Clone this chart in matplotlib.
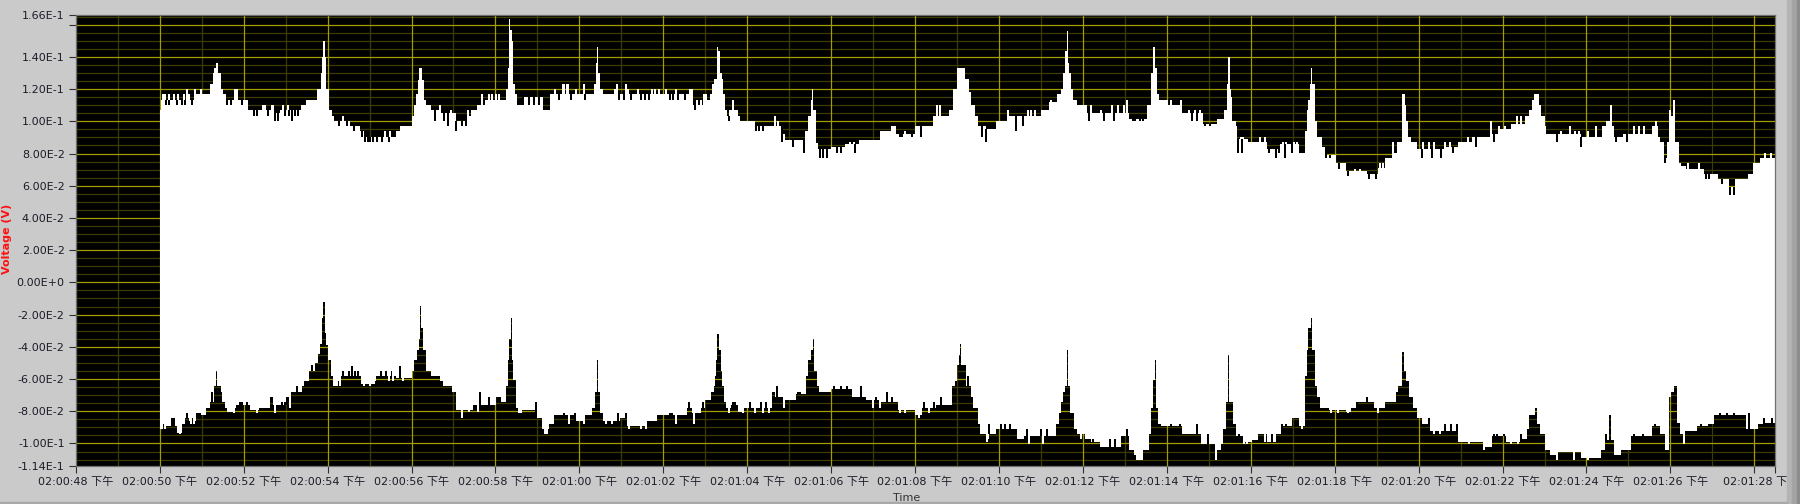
import numpy as np
import matplotlib
matplotlib.use("Agg")
import matplotlib.pyplot as plt
from matplotlib.patches import Rectangle
from matplotlib.transforms import ScaledTranslation

plt.rcParams['font.family'] = ['DejaVu Sans', 'Noto Sans CJK SC']

# time in seconds after 02:00:00 PM ; envelope of the fast oscillating voltage (V)
upper_t = [50.00, 50.04, 50.86, 51.20, 51.26, 51.30, 51.35, 51.40, 51.45, 51.50,
           51.57, 51.78, 51.85, 52.10, 52.66, 52.72, 52.87, 53.37, 53.49, 53.75, 53.84,
           53.87, 53.90, 53.93, 53.97, 54.04, 54.10, 54.16, 54.54, 54.77, 54.87, 55.63, 55.73, 56.01,
           56.07, 56.11, 56.16, 56.19, 56.24, 56.29, 56.35, 56.46, 56.71, 57.05, 57.27, 57.42, 57.55,
           57.76, 58.26, 58.30, 58.315, 58.33, 58.34, 58.39, 58.42, 58.47, 58.52, 58.64, 59.14, 59.31,
           59.47, 60.35, 60.39, 60.42, 60.44, 60.49, 60.56, 60.73,
           62.65, 62.70, 62.99, 63.11, 63.17, 63.22, 63.27, 63.31, 63.36, 63.39, 63.42, 63.46, 63.52,
           63.57, 63.64, 63.77, 63.82, 64.18, 64.83, 64.91, 65.37, 65.45, 65.51, 65.54, 65.56, 65.63,
           65.68, 66.00, 66.33, 66.67, 67.17, 67.42, 67.54, 68.00, 68.42, 68.80, 68.91, 69.01, 69.06,
           69.08, 69.19, 69.28, 69.34, 69.43, 69.51, 69.68, 69.93, 70.18, 71.01, 71.18, 71.39, 71.47,
           71.53, 71.58, 71.62, 71.65, 71.68, 71.72, 71.77, 71.85, 72.06, 73.10, 73.52, 73.62, 73.66,
           73.71, 73.76, 73.82, 74.02, 74.36, 74.86, 75.19, 75.36, 75.43, 75.46, 75.50, 75.52,
           75.56, 75.64, 75.68, 75.93, 76.39, 76.69, 77.15, 77.29, 77.34, 77.37, 77.40, 77.44, 77.46,
           77.52, 77.57, 77.69, 77.82, 78.02, 78.27, 78.78, 79.03, 79.19, 79.36, 79.49, 79.60, 79.68,
           79.71, 79.75, 79.82, 79.95, 80.62, 80.95, 81.28, 81.70, 81.95, 82.20, 82.54, 82.62, 82.71,
           82.76, 82.86, 82.91, 83.00, 83.04, 83.88, 84.38, 84.46, 84.55, 84.60, 84.65, 84.88, 85.55,
           85.70, 85.76, 85.84, 85.93, 85.97, 86.02, 86.07, 86.12, 86.20, 86.26, 86.38, 86.80, 87.14,
           87.39, 87.55, 87.85, 87.97, 88.14, 88.60]
upper_v = [0.1071, 0.1133, 0.1171, 0.1233, 0.1300, 0.1331, 0.1363, 0.1300, 0.1202, 0.1171,
           0.1133, 0.1202, 0.1133, 0.1071, 0.1102, 0.1052, 0.1071, 0.1102, 0.1133, 0.1202, 0.1300,
           0.1400, 0.1498, 0.1400, 0.1202, 0.1071, 0.1033, 0.1000, 0.0971, 0.0942, 0.0902, 0.0942, 0.0971, 0.1033,
           0.1102, 0.1171, 0.1258, 0.1331, 0.1258, 0.1133, 0.1102, 0.1071, 0.1050, 0.1000, 0.1033, 0.1071, 0.1102,
           0.1133, 0.1202, 0.1331, 0.1655, 0.1633, 0.1567, 0.1498, 0.1233, 0.1171, 0.1102, 0.1150, 0.1071, 0.1171,
           0.1171, 0.1233, 0.1363, 0.1463, 0.1300, 0.1202, 0.1171, 0.1171,
           0.1202, 0.1102, 0.1133, 0.1171, 0.1233, 0.1263, 0.1463, 0.1435, 0.1300, 0.1263, 0.1171, 0.1071, 0.1033,
           0.1071, 0.1071, 0.1033, 0.1000, 0.0971, 0.0922, 0.0887, 0.0942, 0.1033, 0.1133, 0.1202, 0.1071, 0.0867,
           0.0825, 0.0842, 0.0858, 0.0887, 0.0942, 0.0971, 0.0920, 0.0971, 0.1033, 0.1071, 0.1202, 0.1331, 0.1363,
           0.1331, 0.1263, 0.1180, 0.1102, 0.1033, 0.0971, 0.0955, 0.1000, 0.1033, 0.1071, 0.1120, 0.1171, 0.1202,
           0.1300, 0.1435, 0.1560, 0.1363, 0.1300, 0.1202, 0.1133, 0.1102, 0.1050, 0.1017, 0.1102, 0.1300, 0.1463,
           0.1331, 0.1171, 0.1133, 0.1102, 0.1050, 0.0985, 0.1017, 0.1071, 0.1233, 0.1400, 0.1202, 0.1150,
           0.1000, 0.0971, 0.0890, 0.0873, 0.0830, 0.0858, 0.0804, 0.0942, 0.1071, 0.1133, 0.1233, 0.1331, 0.1233,
           0.1000, 0.0902, 0.0842, 0.0790, 0.0740, 0.0690, 0.0675, 0.0710, 0.0773, 0.0804, 0.0873, 0.1171, 0.1102,
           0.1000, 0.0902, 0.0873, 0.0830, 0.0842, 0.0873, 0.0902, 0.0920, 0.0955, 0.0985, 0.1033, 0.1071, 0.1133,
           0.1171, 0.1102, 0.1033, 0.0971, 0.0920, 0.0902, 0.0971, 0.1000, 0.1102, 0.0971, 0.0902, 0.0920, 0.0971,
           0.0902, 0.0873, 0.0773, 0.0873, 0.1071, 0.1033, 0.1133, 0.0873, 0.0742, 0.0720, 0.0704, 0.0675, 0.0644,
           0.0590, 0.0644, 0.0675, 0.0742, 0.0775, 0.0775]

# thin single-sample excursions of the upper envelope (white above it, black dips below it)
upper_peak_t = [50.07, 50.13, 50.23, 50.33, 50.44, 50.59, 50.64, 50.69, 50.84, 50.99, 51.83, 52.45, 52.52,
                52.93, 53.05, 54.36, 55.36, 55.49, 56.68, 56.94, 57.34, 57.67, 57.85, 57.92, 58.01, 58.09,
                59.43, 59.60, 59.64, 59.70, 59.74, 59.93, 60.10, 60.84, 60.89, 61.10, 61.16, 61.40, 61.73,
                61.81, 61.90, 62.06, 62.31, 62.63, 62.80, 62.90, 62.97, 63.02, 63.67, 64.34, 64.44, 64.66,
                64.73, 66.46, 66.54, 67.77, 68.18, 68.27, 68.52, 68.60, 70.22, 70.70, 70.76, 70.85, 71.24,
                71.93, 72.08, 72.20, 72.43, 72.69, 72.84, 72.99, 73.06, 74.11, 74.34, 74.53, 74.68, 74.78,
                75.77, 75.81, 76.21, 76.35, 76.77, 76.85, 77.02, 77.10, 78.48, 78.61, 79.09, 79.16, 79.40,
                80.11, 80.24, 80.36, 80.63, 80.74, 81.18, 81.72, 81.91, 82.06, 82.35, 82.45, 83.39, 83.61,
                83.72, 83.83, 84.04, 84.23, 85.13, 85.25, 85.38, 85.66, 86.43, 86.68, 88.26, 88.39]
upper_peak_v = [0.1171, 0.1171, 0.1171, 0.1171, 0.1171, 0.1171, 0.1202, 0.1171, 0.1202, 0.1202, 0.1202, 0.1102, 0.1102,
                0.1102, 0.1102, 0.1033, 0.0942, 0.0942, 0.1102, 0.1071, 0.1071, 0.1171, 0.1171, 0.1171, 0.1171, 0.1171,
                0.1202, 0.1233, 0.1233, 0.1233, 0.1233, 0.1202, 0.1233, 0.1202, 0.1233, 0.1233, 0.1202, 0.1202, 0.1202,
                0.1202, 0.1202, 0.1202, 0.1202, 0.1202, 0.1133, 0.1133, 0.1171, 0.1171, 0.1133, 0.0971, 0.0971, 0.1033,
                0.1000, 0.0873, 0.0873, 0.0942, 0.0971, 0.0971, 0.1102, 0.1102, 0.1071, 0.1071, 0.1071, 0.1071, 0.1133,
                0.1102, 0.1102, 0.1102, 0.1071, 0.1102, 0.1102, 0.1102, 0.1133, 0.1133, 0.1133, 0.1071, 0.1071, 0.1071,
                0.0902, 0.0902, 0.0902, 0.0902, 0.0873, 0.0873, 0.0873, 0.0873, 0.0704, 0.0704, 0.0742, 0.0742, 0.0873,
                0.0873, 0.0873, 0.0873, 0.0873, 0.0873, 0.0902, 0.1000, 0.0971, 0.0971, 0.1033, 0.1033, 0.0942, 0.0971,
                0.0942, 0.0942, 0.0942, 0.0971, 0.0971, 0.0971, 0.0971, 0.1000, 0.0742, 0.0742, 0.0804, 0.0804]
upper_dip_t = [50.15, 50.21, 50.40, 50.54, 50.61, 50.76, 51.61, 51.71, 51.97, 52.24, 52.32, 52.58, 52.74,
               52.83, 52.98, 53.09, 53.16, 53.22, 53.30, 54.27, 54.46, 54.62, 54.83, 54.89, 54.96, 55.02,
               55.09, 55.17, 55.29, 55.46, 56.56, 56.78, 56.86, 57.06, 57.21, 57.30, 58.65, 58.80, 58.93,
               59.05, 59.51, 59.81, 60.14, 60.94, 61.06, 61.23, 61.48, 61.56, 61.65, 62.15, 62.23, 62.36,
               62.52, 62.75, 63.56, 64.21, 64.28, 64.38, 64.82, 65.08, 65.35, 65.73, 65.81, 65.91, 66.15,
               66.23, 66.58, 67.64, 67.70, 67.92, 68.14, 69.59, 69.69, 70.40, 70.58, 72.15, 72.50, 72.74,
               73.19, 73.25, 73.36, 73.44, 74.61, 74.73, 74.90, 75.03, 75.70, 75.78, 76.43, 76.59, 76.67,
               76.81, 76.98, 77.79, 77.88, 78.11, 78.32, 78.82, 78.99, 80.07, 80.32, 80.53, 80.82, 81.37,
               81.79, 83.29, 83.88, 84.71, 84.96, 85.88, 86.84, 86.93, 87.22, 87.43, 87.51]
upper_dip_v = [0.1102, 0.1102, 0.1102, 0.1102, 0.1102, 0.1102, 0.1102, 0.1102, 0.1102, 0.1033, 0.1033, 0.1033, 0.1000,
               0.1000, 0.1033, 0.1033, 0.1000, 0.1033, 0.1033, 0.0971, 0.0971, 0.0942, 0.0902, 0.0873, 0.0873, 0.0873,
               0.0873, 0.0873, 0.0873, 0.0873, 0.1000, 0.1000, 0.0971, 0.0942, 0.0971, 0.0971, 0.1102, 0.1102, 0.1102,
               0.1102, 0.1133, 0.1133, 0.1133, 0.1133, 0.1133, 0.1133, 0.1133, 0.1133, 0.1133, 0.1133, 0.1133, 0.1133,
               0.1133, 0.1071, 0.1000, 0.0942, 0.0942, 0.0942, 0.0873, 0.0842, 0.0804, 0.0773, 0.0773, 0.0773, 0.0804,
               0.0804, 0.0804, 0.0902, 0.0902, 0.0902, 0.0902, 0.0902, 0.0873, 0.0942, 0.0971, 0.1000, 0.1000, 0.1000,
               0.1000, 0.1000, 0.1000, 0.1000, 0.1000, 0.1000, 0.0971, 0.0971, 0.0804, 0.0804, 0.0804, 0.0773, 0.0804,
               0.0773, 0.0804, 0.0773, 0.0773, 0.0704, 0.0660, 0.0644, 0.0640, 0.0773, 0.0773, 0.0773, 0.0804, 0.0842,
               0.0873, 0.0873, 0.0842, 0.0873, 0.0873, 0.0742, 0.0644, 0.0644, 0.0613, 0.0540, 0.0540]

lower_t = [50.00, 50.07, 50.15, 50.40, 50.53, 50.61, 50.69, 50.86, 50.99, 51.11, 51.20, 51.30, 51.33, 51.345,
           51.36, 51.45, 51.49, 51.55, 51.61, 51.74, 51.82, 52.16, 52.37, 52.62, 52.70, 53.04, 53.12, 53.39,
           53.45, 53.55, 53.70, 53.77, 53.83, 53.87, 53.90, 53.93, 53.97, 54.02, 54.08, 54.14, 54.25, 54.33,
           54.79, 55.13, 55.63, 56.00, 56.07, 56.13, 56.17, 56.20, 56.23, 56.28, 56.34, 56.46, 56.67, 56.76,
           56.96, 57.05, 57.47, 58.01, 58.13, 58.26, 58.30, 58.33, 58.37, 58.39, 58.43, 58.49, 58.54, 58.64,
           58.97, 59.10, 59.27, 59.39, 59.89, 60.14, 60.31, 60.38, 60.42, 60.45, 60.50, 60.56, 60.98, 61.14,
           61.56, 61.85, 62.57, 62.69, 62.90, 62.99, 63.14, 63.20, 63.24, 63.26, 63.29, 63.32, 63.37, 63.41,
           63.45, 63.49, 63.62, 63.78, 63.91, 64.58, 64.66, 64.87, 65.16, 65.41, 65.46, 65.51, 65.56, 65.60,
           65.66, 65.71, 66.00, 66.50, 66.84, 67.17, 67.59, 68.01, 68.17, 68.51, 68.88, 68.94, 69.01, 69.05,
           69.07, 69.09, 69.22, 69.33, 69.39, 69.49, 69.55, 69.68, 69.76, 69.93, 70.43, 70.60, 71.35, 71.42,
           71.48, 71.53, 71.58, 71.62, 71.65, 71.70, 71.79, 71.85, 72.06, 72.19, 72.40, 72.90, 73.11, 73.21,
           73.26, 73.44, 73.57, 73.62, 73.68, 73.71, 73.73, 73.79, 73.86, 74.36, 74.82, 75.15, 75.20, 75.28,
           75.35, 75.41, 75.45, 75.49, 75.57, 75.64, 75.81, 76.02, 76.18, 76.39, 76.60, 76.77, 76.98, 77.15,
           77.29, 77.34, 77.37, 77.44, 77.46, 77.52, 77.59, 77.66, 77.86, 78.27, 78.40, 78.53, 78.94, 79.19,
           79.45, 79.51, 79.60, 79.65, 79.71, 79.78, 79.86, 79.95, 80.07, 80.28, 80.95, 81.03, 81.53, 81.74,
           82.08, 82.45, 82.58, 82.64, 82.77, 82.83, 82.89, 83.02, 83.14, 83.29, 83.88, 84.34, 84.44, 84.53,
           84.58, 84.65, 84.80, 85.05, 85.55, 85.76, 85.88, 85.97, 86.02, 86.09, 86.15, 86.22, 86.34, 86.64,
           86.89, 87.05, 87.81, 88.06, 88.23, 88.60]
lower_v = [-0.0909, -0.0878, -0.0890, -0.0936, -0.0878, -0.0840, -0.0860, -0.0811, -0.0825, -0.0778, -0.0745, -0.0646, -0.0583, -0.0548,
           -0.0646, -0.0679, -0.0745, -0.0778, -0.0807, -0.0778, -0.0760, -0.0790, -0.0778, -0.0712, -0.0760, -0.0712, -0.0679, -0.0646,
           -0.0612, -0.0548, -0.0500, -0.0447, -0.0380, -0.0221, -0.0119, -0.0314, -0.0386, -0.0480, -0.0583, -0.0646, -0.0612, -0.0583,
           -0.0630, -0.0583, -0.0595, -0.0548, -0.0480, -0.0418, -0.0351, -0.0148, -0.0283, -0.0418, -0.0548, -0.0583, -0.0612, -0.0646,
           -0.0679, -0.0790, -0.0760, -0.0712, -0.0745, -0.0646, -0.0480, -0.0351, -0.0221, -0.0480, -0.0604, -0.0778, -0.0811, -0.0795,
           -0.0840, -0.0910, -0.0878, -0.0825, -0.0860, -0.0825, -0.0778, -0.0679, -0.0480, -0.0679, -0.0811, -0.0860, -0.0840, -0.0890,
           -0.0860, -0.0825, -0.0778, -0.0811, -0.0778, -0.0730, -0.0679, -0.0646, -0.0583, -0.0480, -0.0318, -0.0418, -0.0548, -0.0646,
           -0.0745, -0.0778, -0.0760, -0.0807, -0.0778, -0.0679, -0.0712, -0.0730, -0.0695, -0.0583, -0.0480, -0.0418, -0.0351, -0.0548,
           -0.0646, -0.0679, -0.0665, -0.0712, -0.0730, -0.0745, -0.0790, -0.0825, -0.0778, -0.0760, -0.0646, -0.0612, -0.0511, -0.0449,
           -0.0382, -0.0511, -0.0646, -0.0712, -0.0778, -0.0878, -0.0940, -0.0973, -0.0940, -0.0909, -0.0973, -0.0955, -0.0878, -0.0811,
           -0.0745, -0.0679, -0.0646, -0.0418, -0.0646, -0.0811, -0.0909, -0.0940, -0.0973, -0.0990, -0.1020, -0.0955, -0.1039, -0.1073,
           -0.1102, -0.1039, -0.0940, -0.0778, -0.0604, -0.0480, -0.0778, -0.0878, -0.0890, -0.0940, -0.1006, -0.1102, -0.1039, -0.1006,
           -0.0909, -0.0745, -0.0451, -0.0745, -0.0878, -0.0955, -0.0990, -0.0977, -0.0940, -0.0990, -0.0940, -0.0890, -0.0840, -0.0890,
           -0.0583, -0.0418, -0.0283, -0.0221, -0.0418, -0.0646, -0.0712, -0.0778, -0.0790, -0.0807, -0.0778, -0.0745, -0.0778, -0.0745,
           -0.0679, -0.0646, -0.0434, -0.0548, -0.0612, -0.0712, -0.0778, -0.0840, -0.0878, -0.0920, -0.0990, -0.0990, -0.1022, -0.0955,
           -0.0990, -0.0973, -0.0909, -0.0825, -0.0778, -0.0878, -0.0940, -0.1039, -0.1073, -0.1055, -0.1090, -0.1039, -0.0980, -0.0825,
           -0.0977, -0.1073, -0.1039, -0.0955, -0.0890, -0.0940, -0.1039, -0.0712, -0.0679, -0.0646, -0.0873, -0.0940, -0.0920, -0.0890,
           -0.0878, -0.0825, -0.0909, -0.0878, -0.0875, -0.0875]

# thin single-sample excursions of the lower envelope (black rising into the band, white dipping below it)
lower_peak_t = [50.29, 50.33, 50.64, 50.76, 51.25, 51.74, 51.91, 51.96, 52.07, 52.42, 52.64, 52.91, 52.98,
                53.03, 53.27, 53.64, 54.36, 54.51, 54.58, 54.66, 54.73, 55.28, 55.39, 55.54, 55.72, 57.64,
                57.84, 58.97, 59.64, 59.75, 59.89, 60.93, 61.10, 62.15, 62.20, 62.61, 62.95, 63.03, 63.66,
                63.72, 64.06, 64.18, 64.33, 64.45, 64.70, 65.20, 65.26, 66.08, 66.23, 66.38, 66.70, 67.08,
                67.34, 67.46, 68.21, 68.44, 68.63, 69.26, 69.76, 70.05, 70.14, 70.26, 70.66, 71.01, 71.14,
                72.23, 72.65, 72.77, 73.04, 74.09, 74.32, 74.72, 74.99, 75.72, 76.23, 76.50, 76.75, 76.85,
                77.06, 78.07, 78.52, 78.78, 79.28, 80.24, 80.63, 80.77, 80.91, 81.79, 81.87, 82.04, 82.44,
                84.46, 85.13, 85.34, 85.63, 86.72, 87.18, 87.34, 87.51, 87.87, 88.22, 88.43]
lower_peak_v = [-0.0840, -0.0840, -0.0811, -0.0840, -0.0679, -0.0778, -0.0745, -0.0745, -0.0745, -0.0778, -0.0712, -0.0745, -0.0745,
                -0.0712, -0.0646, -0.0511, -0.0548, -0.0548, -0.0517, -0.0548, -0.0548, -0.0548, -0.0548, -0.0548, -0.0517, -0.0679,
                -0.0712, -0.0745, -0.0811, -0.0811, -0.0811, -0.0811, -0.0811, -0.0811, -0.0811, -0.0745, -0.0745, -0.0745, -0.0745,
                -0.0745, -0.0745, -0.0745, -0.0745, -0.0745, -0.0646, -0.0679, -0.0679, -0.0646, -0.0646, -0.0646, -0.0646, -0.0712,
                -0.0679, -0.0712, -0.0745, -0.0745, -0.0712, -0.0583, -0.0878, -0.0878, -0.0878, -0.0878, -0.0909, -0.0909, -0.0909,
                -0.0973, -0.0973, -0.0973, -0.0909, -0.0878, -0.0878, -0.0878, -0.0940, -0.0940, -0.0940, -0.0940, -0.0878, -0.0878,
                -0.0840, -0.0745, -0.0745, -0.0712, -0.0745, -0.0840, -0.0878, -0.0878, -0.0878, -0.0940, -0.0940, -0.0940, -0.0940,
                -0.0940, -0.0940, -0.0940, -0.0878, -0.0878, -0.0811, -0.0811, -0.0811, -0.0811, -0.0845, -0.0845]
lower_dip_t = [50.13, 50.48, 50.74, 50.82, 51.76, 52.32, 52.75, 53.10, 53.35, 54.29, 54.87, 55.00, 55.13,
               55.46, 55.57, 55.79, 57.20, 57.36, 57.59, 59.18, 59.22, 59.76, 60.10, 60.64, 60.77, 61.18,
               61.48, 61.58, 62.31, 62.73, 62.78, 63.57, 63.89, 64.18, 64.37, 64.51, 64.88, 67.00, 67.17,
               67.65, 67.77, 68.09, 68.34, 69.72, 69.80, 70.55, 70.72, 71.06, 71.95, 72.45, 72.56, 75.85,
               75.92, 76.35, 76.56, 77.23, 77.91, 78.07, 78.32, 79.03, 80.36, 80.51, 81.20, 81.55, 81.68,
               82.20, 82.37, 83.29, 83.71, 84.03, 84.73, 84.80, 86.32, 88.06]
lower_dip_v = [-0.0909, -0.0940, -0.0878, -0.0878, -0.0811, -0.0811, -0.0811, -0.0778, -0.0679, -0.0646, -0.0646, -0.0646, -0.0612,
               -0.0612, -0.0612, -0.0612, -0.0840, -0.0807, -0.0807, -0.0940, -0.0940, -0.0878, -0.0878, -0.0878, -0.0878, -0.0909,
               -0.0909, -0.0909, -0.0878, -0.0878, -0.0811, -0.0811, -0.0811, -0.0811, -0.0811, -0.0811, -0.0778, -0.0778, -0.0778,
               -0.0811, -0.0811, -0.0840, -0.0811, -0.0990, -0.0940, -0.0973, -0.1006, -0.1006, -0.0973, -0.1020, -0.1020, -0.1006,
               -0.1006, -0.0990, -0.0990, -0.0909, -0.0811, -0.0811, -0.0811, -0.0811, -0.0940, -0.0940, -0.1006, -0.1039, -0.1006,
               -0.1006, -0.1006, -0.1102, -0.1102, -0.1102, -0.1073, -0.1073, -0.1006, -0.0909]

x_tick_pos = [48, 50, 52, 54, 56, 58, 60, 62, 64, 66, 68, 70, 72, 74, 76, 78, 80, 82, 84, 86, 88, 88.5]
x_tick_labels = ['02:00:48 下午', '02:00:50 下午', '02:00:52 下午', '02:00:54 下午', '02:00:56 下午',
                 '02:00:58 下午', '02:01:00 下午', '02:01:02 下午', '02:01:04 下午', '02:01:06 下午',
                 '02:01:08 下午', '02:01:10 下午', '02:01:12 下午', '02:01:14 下午', '02:01:16 下午',
                 '02:01:18 下午', '02:01:20 下午', '02:01:22 下午', '02:01:24 下午', '02:01:26 下午',
                 '', '02:01:28 下午']
y_tick_pos = [-0.114, -0.10, -0.08, -0.06, -0.04, -0.02, 0.0, 0.02, 0.04, 0.06, 0.08, 0.10, 0.12, 0.14, 0.16, 0.166]
y_tick_labels = ['-1.14E-1', '-1.00E-1', '-8.00E-2', '-6.00E-2', '-4.00E-2', '-2.00E-2', '0.00E+0',
                 '2.00E-2', '4.00E-2', '6.00E-2', '8.00E-2', '1.00E-1', '1.20E-1', '1.40E-1', '', '1.66E-1']

W, H = 1800, 504
fig = plt.figure(figsize=(W / 100, H / 100), dpi=100, facecolor='#cacaca')
ax = fig.add_axes([75.8 / W, 38 / H, 1699.5 / W, 451 / H])
ax.set_facecolor('black')
ax.set_xlim(48, 88.5)
ax.set_ylim(-0.114, 0.166)

# grid
major_grid = '#a39c00'
minor_grid = '#3e3b00'
ys_minor = np.arange(-0.110, 0.1651, 0.005)
ys_minor = [y for y in ys_minor if abs(round(y / 0.02) * 0.02 - y) > 1e-6]
ax.hlines(ys_minor, 48, 88.5, colors=minor_grid, lw=0.9, zorder=0.5)
ax.hlines(np.arange(-0.10, 0.1601, 0.02), 48, 88.5, colors=major_grid, lw=0.9, zorder=0.6)
ax.vlines(np.arange(49, 88, 2), -0.114, 0.166, colors=minor_grid, lw=0.9, zorder=0.5)
ax.vlines(np.arange(50, 88.1, 2), -0.114, 0.166, colors=major_grid, lw=0.9, zorder=0.6)

# signal envelope (dense oscillation drawn as filled band)
ax.fill_between(upper_t, upper_v, 0, step='post', facecolor='white', lw=0, antialiased=False, zorder=2)
ax.fill_between(lower_t, lower_v, 0, step='post', facecolor='white', lw=0, antialiased=False, zorder=2)


def base_at(ts, vs, t):
    i = np.searchsorted(ts, t, side='right') - 1
    return np.asarray(vs)[np.clip(i, 0, len(vs) - 1)]


spk = dict(lw=1.1, antialiased=False, zorder=2.5)
ax.vlines(upper_peak_t, 0, upper_peak_v, colors='white', **spk)
ax.vlines(upper_dip_t, upper_dip_v, base_at(upper_t, upper_v, upper_dip_t), colors='black', **spk)
ax.vlines(lower_peak_t, base_at(lower_t, lower_v, lower_peak_t), lower_peak_v, colors='black', **spk)
ax.vlines(lower_dip_t, lower_dip_v, 0, colors='white', **spk)

ax.set_xticks(x_tick_pos)
ax.set_xticklabels(x_tick_labels)
ax.set_yticks(y_tick_pos)
ax.set_yticklabels(y_tick_labels)
ax.tick_params(axis='both', direction='out', length=5, width=0.8, color='#303030',
               labelsize=8, labelcolor='#1c1c28', pad=3)
last = ax.get_xticklabels()[-1]
last.set_transform(last.get_transform() + ScaledTranslation(-0.15, 0, fig.dpi_scale_trans))
for sp in ax.spines.values():
    sp.set_color('#707070')
    sp.set_linewidth(0.9)

fig.text(7.5 / W, 1 - 239 / H, 'Voltage (V)', rotation=90, color='#ff1010', fontweight='bold',
         fontsize=8, ha='center', va='center')
fig.text(907 / W, 1 - 498 / H, 'Time', color='#303030', fontsize=8, ha='center', va='center')

# panel borders on the right and bottom
for x0, w, c in [(1786.7, 5, '#b4b4b4'), (1791.7, 5, '#a4a4a4'), (1796.7, 3.3, '#8c8c8c')]:
    fig.patches.append(Rectangle((x0 / W, 0), w / W, 1, transform=fig.transFigure, color=c, zorder=5))
fig.patches.append(Rectangle((0, 0), 1786.7 / W, 2.5 / H, transform=fig.transFigure, color='#a8a8a8', zorder=5))

fig.savefig('out.png', dpi=100, facecolor=fig.get_facecolor())
